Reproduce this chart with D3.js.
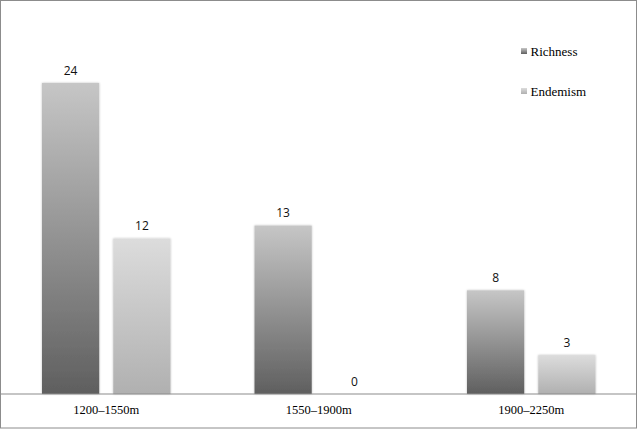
<!DOCTYPE html>
<html>
<head>
<meta charset="utf-8">
<script src="https://cdn.jsdelivr.net/npm/d3@7"></script>
<style>
  body { margin: 0; background: #fff; }
  svg { display: block; }
</style>
</head>
<body>
<svg id="svg"></svg>
<script>
let categories = ["1200\u20131550m", "1550\u20131900m", "1900\u20132250m"];
let seriesNames = ["Richness", "Endemism"];
let richness = [24, 13, 8];
let endemism = [12, 0, 3];

let width = 638, height = 429;
let baseY = 394;

let svg = d3.select("#svg").attr("width", width).attr("height", height);

let defs = svg.append("defs");
let gradStops = [
    [["0%", "#c6c6c6"], ["100%", "#5f5f5f"]],
    [["0%", "#dcdcdc"], ["100%", "#b0b0b0"]]
];
gradStops.forEach(function(stops, i) {
    let g = defs.append("linearGradient")
        .attr("id", "grad" + i)
        .attr("x1", 0).attr("y1", 0).attr("x2", 0).attr("y2", 1);
    stops.forEach(function(s) {
        g.append("stop").attr("offset", s[0]).attr("stop-color", s[1]);
    });
});
let blur = defs.append("filter").attr("id", "soft")
    .attr("x", "-10%").attr("y", "-5%").attr("width", "120%").attr("height", "110%");
blur.append("feGaussianBlur").attr("in", "SourceAlpha").attr("stdDeviation", 1.2).attr("result", "b");
blur.append("feOffset").attr("dx", 0).attr("dy", 0).attr("result", "o");
blur.append("feComponentTransfer").append("feFuncA").attr("type", "linear").attr("slope", 0.25);
let merge = blur.append("feMerge");
merge.append("feMergeNode");
merge.append("feMergeNode").attr("in", "SourceGraphic");

let x0 = d3.scaleBand().domain(categories).range([0, 637.5]).paddingInner(0).paddingOuter(0);
let x1 = d3.scaleBand().domain(seriesNames).range([42, 170.5]).paddingInner(0.197).paddingOuter(0);
let y = d3.scaleLinear().domain([0, 24]).range([baseY, 83]);

let data = categories.map(function(c, i) {
    return { cat: c, vals: [richness[i], endemism[i]] };
});

let groups = svg.append("g").selectAll("g")
    .data(data)
    .join("g")
    .attr("transform", d => `translate(${x0(d.cat)},0)`);

groups.selectAll("rect")
    .data(d => d.vals.map((v, j) => ({ name: seriesNames[j], v: v, j: j })))
    .join("rect")
    .attr("x", d => x1(d.name))
    .attr("width", x1.bandwidth())
    .attr("y", d => y(d.v))
    .attr("height", d => baseY - y(d.v))
    .attr("fill", d => `url(#grad${d.j})`)
    .attr("filter", "url(#soft)");

groups.selectAll("text.val")
    .data(d => d.vals.map((v, j) => ({ name: seriesNames[j], v: v })))
    .join("text")
    .attr("class", "val")
    .attr("x", d => x1(d.name) + x1.bandwidth() / 2)
    .attr("y", d => y(d.v) - 8.5)
    .attr("text-anchor", "middle")
    .style("font-family", "'Open Sans', 'DejaVu Sans', sans-serif")
    .style("font-size", "12px")
    .style("fill", "#111")
    .text(d => d.v);

// axis line and category labels
svg.append("line")
    .attr("x1", 0).attr("x2", 637).attr("y1", baseY).attr("y2", baseY)
    .attr("stroke", "#8c8c8c").attr("stroke-width", 1.2);

let xAxis = d3.axisBottom(x0).tickSize(0).tickPadding(0);
let ax = svg.append("g").attr("transform", `translate(0,${baseY})`).call(xAxis);
ax.select(".domain").remove();
ax.selectAll("text")
    .attr("dy", 0).attr("y", 20)
    .style("font-family", "'Liberation Serif', 'Times New Roman', serif")
    .style("font-size", "12.5px")
    .style("fill", "#000");

// legend
let legend = svg.append("g").selectAll("g")
    .data(seriesNames)
    .join("g")
    .attr("transform", (d, i) => `translate(521,${48 + i * 40})`);
legend.append("rect")
    .attr("width", 6).attr("height", 6)
    .attr("fill", (d, i) => `url(#grad${i})`);
legend.append("text")
    .attr("x", 9.5).attr("y", 7.5)
    .style("font-family", "'Liberation Serif', 'Times New Roman', serif")
    .style("font-size", "13px")
    .style("fill", "#000")
    .text(d => d);

// outer border
svg.append("rect")
    .attr("x", 0.5).attr("y", 0.5).attr("width", 636).attr("height", 427.5)
    .attr("fill", "none").attr("stroke", "#8c8c8c").attr("stroke-width", 1);
</script>
</body>
</html>
